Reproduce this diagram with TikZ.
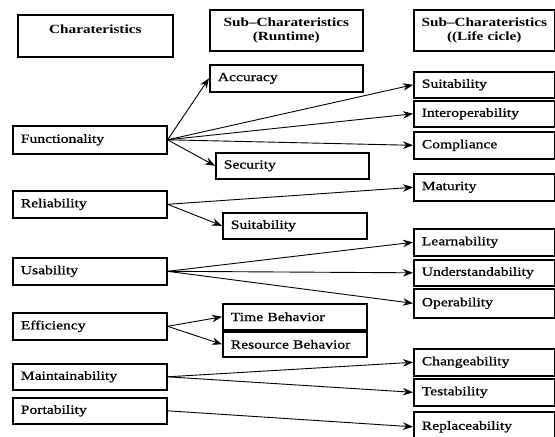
\documentclass[tikz,border=0pt]{standalone}
\usepackage{fontspec}
\setmainfont{Liberation Serif}[FakeStretch=1.22]
\newfontfamily\bodyfont{Liberation Serif}[FakeStretch=1.25,FakeBold=1]
\usetikzlibrary{arrows.meta}
\tikzset{
  box/.style={draw, line width=1.6pt, anchor=north west, inner xsep=0pt, inner ysep=0pt,
    align=left, font=\bodyfont\fontsize{12.5}{14}\selectfont},
  hbox/.style={draw, line width=1.6pt, anchor=north west, inner xsep=0pt, inner ysep=0pt,
    align=center, font=\bfseries\fontsize{12.5}{14}\selectfont},
  conn/.style={line width=0.9pt, -{Stealth[length=10pt,width=7.5pt]}}
}
\newcommand\mybx[6]{%
  \pgfmathsetmacro\myBW{#4-#2}\pgfmathsetmacro\myBH{#5-#3}\pgfmathsetmacro\myTW{#4-#2-16}%
  \node[box, minimum width=\myBW pt, minimum height=\myBH pt, text width=\myTW pt] (#1) at (#2,#3) {#6};}
\newcommand\myhx[6]{%
  \pgfmathsetmacro\myBW{#4-#2}\pgfmathsetmacro\myBH{#5-#3}\pgfmathsetmacro\myTW{#4-#2-4}%
  \node[hbox, minimum width=\myBW pt, minimum height=\myBH pt, text width=\myTW pt] (#1) at (#2,#3) {#6};}
\begin{document}
\begin{tikzpicture}[x=1pt,y=-1pt]
\useasboundingbox (0,0) rectangle (555,437);
% headers
\myhx{hc}{17}{14}{172}{56}{Charateristics\\\mbox{}}
\myhx{hr}{209}{9}{362}{50}{Sub–Charateristics\\(Runtime)}
\myhx{hl}{413}{9}{554}{50}{Sub–Charateristics\\((Life cicle)}
% left column
\mybx{func}{12}{125}{166}{153}{Functionality}
\mybx{rel}{12}{190}{166}{217}{Reliability}
\mybx{usa}{12}{257}{166}{284}{Usability}
\mybx{eff}{12}{312}{166}{339}{Efficiency}
\mybx{mai}{12}{363}{166}{389}{Maintainability}
\mybx{por}{12}{397}{166}{423}{Portability}
% middle column
\mybx{acc}{209}{64}{362}{91}{Accuracy}
\mybx{sec}{215}{152}{368}{178}{Security}
\mybx{suim}{222}{212}{366}{238}{Suitability}
\mybx{tim}{222}{303}{366}{329}{Time Behavior}
\mybx{res}{222}{331}{366}{356}{Resource Behavior}
% right column
\mybx{suir}{413}{71}{554}{97}{Suitability}
\mybx{int}{413}{100}{554}{126}{Interoperability}
\mybx{com}{413}{131}{554}{158}{Compliance}
\mybx{mat}{413}{173}{554}{200}{Maturity}
\mybx{lea}{413}{228}{554}{255}{Learnability}
\mybx{und}{413}{259}{554}{285}{Understandability}
\mybx{ope}{413}{288}{554}{317}{Operability}
\mybx{cha}{413}{348}{554}{375}{Changeability}
\mybx{tes}{413}{378}{554}{405}{Testability}
\mybx{rep}{413}{411}{554}{441}{Replaceability}
% connectors
\draw[conn] (func.east) -- (acc.west);
\draw[conn] (func.east) -- (suir.west);
\draw[conn] (func.east) -- (int.west);
\draw[conn] (func.east) -- (com.west);
\draw[conn] (func.east) -- (sec.west);
\draw[conn] (rel.east) -- (mat.west);
\draw[conn] (rel.east) -- (suim.west);
\draw[conn] (usa.east) -- (lea.west);
\draw[conn] (usa.east) -- (und.west);
\draw[conn] (usa.east) -- (ope.west);
\draw[conn] (eff.east) -- (tim.west);
\draw[conn] (eff.east) -- (res.west);
\draw[conn] (mai.east) -- (cha.west);
\draw[conn] (mai.east) -- (tes.west);
\draw[conn] (por.east) -- (rep.west);
\end{tikzpicture}
\end{document}
